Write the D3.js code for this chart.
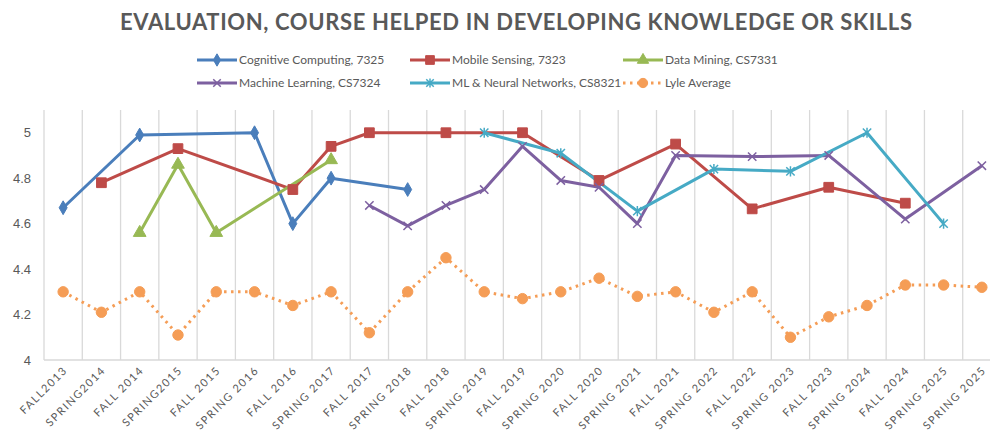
<!DOCTYPE html>
<html lang="en">
<head>
<meta charset="utf-8">
<title>evaluation chart</title>
<script src="https://d3js.org/d3.v7.min.js"></script>
<style>
  body { margin: 0; background: #fff; }
  svg { display: block; font-family: "Lato", "Open Sans", sans-serif; }
  .title { font-size: 22px; font-weight: bold; fill: #595959; }
  .legend-text { font-size: 12px; fill: #595959; }
  .tick-text { font-size: 13px; fill: #595959; }
  .xlab { font-size: 11px; fill: #595959; letter-spacing: 1.5px; }
</style>
</head>
<body>
<div id="chart"></div>
<script>
var width = 990, height = 434;

var categories = ["FALL2013", "SPRING2014", "FALL 2014", "SPRING2015", "FALL 2015",
  "SPRING 2016", "FALL 2016", "SPRING 2017", "FALL 2017", "SPRING 2018", "FALL 2018",
  "SPRING 2019", "FALL 2019", "SPRING 2020", "FALL 2020", "SPRING 2021", "FALL 2021",
  "SPRING 2022", "FALL 2022", "SPRING 2023", "FALL 2023", "SPRING 2024", "FALL 2024",
  "SPRING 2025", "SPRING 2025"];

var cognitive = [4.67, null, 4.99, null, null, 5.0, 4.6, 4.8, null, 4.75, null, null, null,
  null, null, null, null, null, null, null, null, null, null, null, null];
var mobile = [null, 4.78, null, 4.93, null, null, 4.75, 4.94, 5.0, null, 5.0, null, 5.0,
  null, 4.79, null, 4.95, null, 4.665, null, 4.76, null, 4.69, null, null];
var dataMining = [null, null, 4.56, 4.86, 4.56, null, null, 4.88, null, null, null, null, null,
  null, null, null, null, null, null, null, null, null, null, null, null];
var machineLearning = [null, null, null, null, null, null, null, null, 4.68, 4.59, 4.68, 4.75, 4.94,
  4.79, 4.76, 4.6, 4.9, null, 4.895, null, 4.9, null, 4.62, null, 4.855];
var neuralNets = [null, null, null, null, null, null, null, null, null, null, null, 5.0, null,
  4.91, null, 4.655, null, 4.84, null, 4.83, null, 5.0, null, 4.6, null];
var lyle = [4.30, 4.21, 4.30, 4.11, 4.30, 4.30, 4.24, 4.30, 4.12, 4.30, 4.45, 4.30, 4.27,
  4.30, 4.36, 4.28, 4.30, 4.21, 4.30, 4.10, 4.19, 4.24, 4.33, 4.33, 4.32];

var yTicks = [4, 4.2, 4.4, 4.6, 4.8, 5];

// custom marker shapes
var symX = { draw: function(c, s) { var r = Math.sqrt(s) / 2;
  c.moveTo(-r, -r); c.lineTo(r, r); c.moveTo(r, -r); c.lineTo(-r, r); } };
var symStar = { draw: function(c, s) { var r = Math.sqrt(s) / 2;
  c.moveTo(-r, -r); c.lineTo(r, r); c.moveTo(r, -r); c.lineTo(-r, r);
  c.moveTo(0, -r * 1.2); c.lineTo(0, r * 1.2); } };

var series = [
  { name: "Cognitive Computing, 7325", values: cognitive, color: "#4a7ebb", sym: d3.symbolDiamond, size: 55, fill: true },
  { name: "Mobile Sensing, 7323", values: mobile, color: "#be4b48", sym: d3.symbolSquare, size: 95, fill: true },
  { name: "Data Mining, CS7331", values: dataMining, color: "#98b954", sym: d3.symbolTriangle, size: 70, fill: true },
  { name: "Machine Learning, CS7324", values: machineLearning, color: "#7d60a0", sym: symX, size: 70, fill: false },
  { name: "ML & Neural Networks, CS8321", values: neuralNets, color: "#46aac5", sym: symStar, size: 70, fill: false },
  { name: "Lyle Average", values: lyle, color: "#f59d56", sym: d3.symbolCircle, size: 85, fill: true, dotted: true }
];

var svg = d3.select("#chart").append("svg")
  .attr("width", width).attr("height", height);

var x = d3.scalePoint()
  .domain(d3.range(categories.length))
  .range([44, 1001])
  .padding(0.5);
var step = x.step();

var y = d3.scaleLinear().domain([4, 5.1]).range([360, 110]);

// title
svg.append("text").attr("class", "title")
  .attr("x", 516).attr("y", 30).attr("text-anchor", "middle")
  .attr("textLength", 792).attr("lengthAdjust", "spacing")
  .text("EVALUATION, COURSE HELPED IN DEVELOPING KNOWLEDGE OR SKILLS");

// vertical gridlines
svg.append("g").selectAll("line")
  .data(d3.range(categories.length + 1))
  .enter().append("line")
  .attr("x1", function(d) { return 44 + d * step; })
  .attr("x2", function(d) { return 44 + d * step; })
  .attr("y1", y(5.1)).attr("y2", y(4))
  .attr("stroke", "#d9d9d9").attr("stroke-width", 1.3);

// base line
svg.append("line")
  .attr("x1", 44).attr("x2", 1001).attr("y1", y(4)).attr("y2", y(4))
  .attr("stroke", "#d9d9d9").attr("stroke-width", 1.3);

// y axis
var yAxis = svg.append("g")
  .attr("transform", "translate(44,0)")
  .call(d3.axisLeft(y).tickValues(yTicks).tickSize(0).tickPadding(13)
    .tickFormat(function(d) { return String(d); }));
yAxis.select(".domain").remove();
yAxis.selectAll("text").attr("class", "tick-text").attr("font-family", null).attr("font-size", null);

// x labels
svg.append("g").selectAll("text")
  .data(categories)
  .enter().append("text")
  .attr("class", "xlab")
  .attr("text-anchor", "end")
  .attr("transform", function(d, i) {
    return "translate(" + (x(i) + 5) + "," + 371 + ") rotate(-45)";
  })
  .text(function(d) { return d; });

// lines
var line = d3.line()
  .x(function(d) { return x(d.i); })
  .y(function(d) { return y(d.v); });

series.forEach(function(s) {
  var pts = s.values.map(function(v, i) { return { i: i, v: v }; })
    .filter(function(d) { return d.v !== null; });
  svg.append("path")
    .datum(pts)
    .attr("fill", "none")
    .attr("stroke", s.color)
    .attr("stroke-width", 3)
    .attr("stroke-dasharray", s.dotted ? "2.5,4.5" : null)
    .attr("stroke-linejoin", "round")
    .attr("d", line);
  s.pts = pts;
});

series.forEach(function(s) {
  var sym = d3.symbol().type(s.sym).size(s.size);
  svg.append("g").selectAll("path")
    .data(s.pts)
    .enter().append("path")
    .attr("transform", function(d) { return "translate(" + x(d.i) + "," + y(d.v) + ")"; })
    .attr("d", sym)
    .attr("fill", s.fill ? s.color : "none")
    .attr("stroke", s.color)
    .attr("stroke-width", s.fill ? 1 : 1.5);
});

// legend
var legendPos = [
  { x: 197, y: 60 }, { x: 410, y: 60 }, { x: 623, y: 60 },
  { x: 197, y: 83 }, { x: 410, y: 83 }, { x: 623, y: 83 }
];
series.forEach(function(s, i) {
  var p = legendPos[i];
  var g = svg.append("g").attr("transform", "translate(" + p.x + "," + p.y + ")");
  g.append("line")
    .attr("x1", 0).attr("x2", 40).attr("y1", 0).attr("y2", 0)
    .attr("stroke", s.color).attr("stroke-width", 3)
    .attr("stroke-dasharray", s.dotted ? "2.5,4.5" : null);
  g.append("path")
    .attr("transform", "translate(20,0)")
    .attr("d", d3.symbol().type(s.sym).size(s.size * 0.8))
    .attr("fill", s.fill ? s.color : "none")
    .attr("stroke", s.color)
    .attr("stroke-width", s.fill ? 1 : 1.5);
  g.append("text").attr("class", "legend-text")
    .attr("x", 42).attr("y", 4)
    .text(s.name);
});
</script>
</body>
</html>
